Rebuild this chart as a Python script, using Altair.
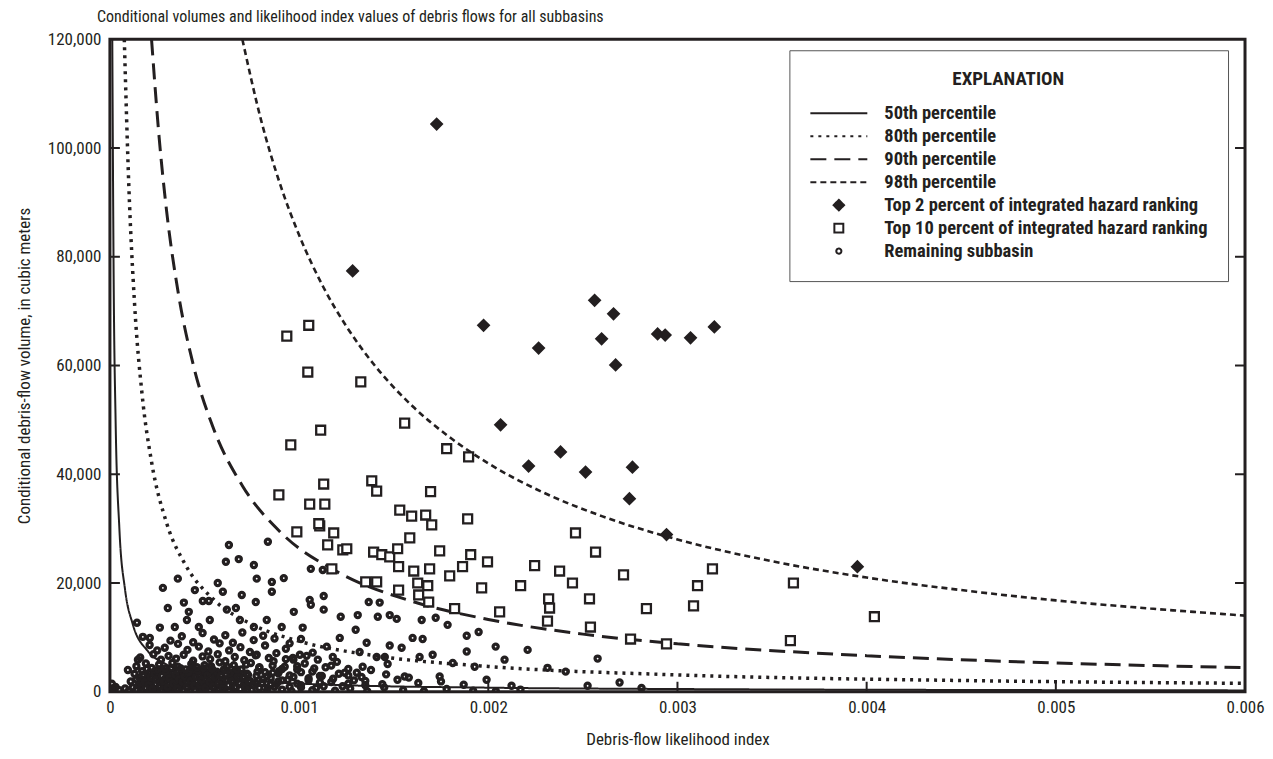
import altair as alt
import pandas as pd

FONT = "Liberation Sans Narrow, Roboto Condensed, DejaVu Sans Condensed, Arial Narrow, sans-serif"
INK = "#231f20"

SERIES = ["50th percentile", "80th percentile", "90th percentile", "98th percentile",
          "Top 2 percent of integrated hazard ranking",
          "Top 10 percent of integrated hazard ranking",
          "Remaining subbasin"]

# percentile curves (likelihood index, volume m3)
p50_L = [0.0000125, 0.00002, 0.00003, 0.00005, 0.00008, 0.00012, 0.0002, 0.0003, 0.0005, 0.0008, 0.0012, 0.002, 0.003, 0.0045, 0.006]
p50_V = [120000, 75000, 50000, 30000, 18800, 12500, 7500, 5000, 3000, 1900, 1250, 750, 500, 330, 250]

p80_L = [0.000076, 0.0001, 0.00013, 0.00017, 0.00022, 0.0003, 0.0004, 0.00055, 0.00075, 0.001, 0.0014, 0.002, 0.003, 0.0045, 0.006]
p80_V = [120000, 93000, 71500, 54700, 42300, 31000, 23300, 16900, 12400, 9300, 6640, 4650, 3100, 2070, 1550]

p90_L = [0.00022, 0.00026, 0.0003, 0.00036, 0.00044, 0.00055, 0.0007, 0.0009, 0.0012, 0.0016, 0.002, 0.0025, 0.003, 0.004, 0.005, 0.006]
p90_V = [120000, 102000, 88300, 73600, 60200, 48200, 37900, 29400, 22100, 16600, 13300, 10600, 8830, 6630, 5300, 4420]

p98_L = [0.0007, 0.0008, 0.0009, 0.001, 0.00113, 0.00125, 0.0014, 0.0016, 0.0018, 0.002, 0.0023, 0.0026, 0.003, 0.0035, 0.004, 0.0045, 0.005, 0.0055, 0.006]
p98_V = [120000, 105000, 93300, 84000, 74300, 67200, 60000, 52500, 46700, 42000, 36500, 32300, 28000, 24000, 21000, 18700, 16800, 15300, 14000]

# Top 2 percent of integrated hazard ranking
top2 = [(0.001727, 104400), (0.001283, 77400), (0.002562, 72000), (0.002662, 69500), (0.001975, 67400),
        (0.002599, 64900), (0.002895, 65800), (0.002935, 65600), (0.002266, 63200), (0.002673, 60100),
        (0.003069, 65100), (0.003195, 67100), (0.002065, 49100), (0.002382, 44100), (0.002213, 41500),
        (0.002514, 40400), (0.002762, 41300), (0.002746, 35500), (0.002942, 28900), (0.003951, 23000)]

# Top 10 percent of integrated hazard ranking
top10 = [(0.001051, 67400), (0.000935, 65400), (0.001046, 58800), (0.001326, 57000), (0.001114, 48100),
         (0.000956, 45400), (0.001558, 49400), (0.001780, 44700), (0.001896, 43200), (0.001130, 38200),
         (0.001384, 38800), (0.001410, 36900), (0.001695, 36800), (0.000893, 36200), (0.001056, 34500),
         (0.001136, 34500), (0.001532, 33400), (0.001595, 32300), (0.001669, 32500), (0.001701, 30700),
         (0.001891, 31800), (0.001109, 30500), (0.001104, 30900), (0.001183, 29200), (0.000988, 29400),
         (0.001585, 28300), (0.002461, 29200), (0.001151, 27000), (0.001231, 26100), (0.001252, 26300),
         (0.001394, 25700), (0.001437, 25200), (0.001479, 24800), (0.001521, 26300), (0.001743, 25900),
         (0.001907, 25200), (0.001996, 23900), (0.001526, 23000), (0.001606, 22200), (0.001690, 22600),
         (0.001796, 21300), (0.001864, 23000), (0.001965, 19100), (0.001627, 20000), (0.001680, 19500),
         (0.001632, 17800), (0.001685, 16500), (0.001526, 18700), (0.001352, 20200), (0.001410, 20200),
         (0.001173, 22600), (0.001822, 15300), (0.002060, 14700), (0.002171, 19500), (0.002245, 23200),
         (0.002319, 17100), (0.002324, 15400), (0.002313, 13000), (0.002377, 22200), (0.002445, 20000),
         (0.002535, 17100), (0.002540, 11900), (0.002567, 25700), (0.002715, 21500), (0.002836, 15300),
         (0.002752, 9700), (0.002942, 8800), (0.003085, 15800), (0.003106, 19500), (0.003185, 22600),
         (0.003613, 20000), (0.003597, 9400), (0.004041, 13800)]

# Remaining subbasins: scattered upper points
rem_upper = [(0.000629, 27000), (0.000835, 27600), (0.000613, 23900), (0.000681, 24400), (0.000761, 23300),
             (0.001062, 22600), (0.001125, 22400), (0.000359, 20800), (0.000280, 19100), (0.000570, 20000),
             (0.000449, 18700), (0.000597, 18400), (0.000776, 20800), (0.000856, 20200), (0.000919, 20900),
             (0.000856, 18400), (0.000697, 17800), (0.000771, 16500), (0.000306, 15400), (0.000391, 16400),
             (0.000491, 16700), (0.000523, 16700), (0.000666, 15400), (0.000417, 14700), (0.001056, 16900),
             (0.001062, 16000), (0.001130, 17600), (0.001368, 16500), (0.001426, 16400), (0.000972, 14700),
             (0.001130, 15100), (0.001220, 13800), (0.001310, 14100), (0.001416, 13800), (0.001479, 14100),
             (0.001516, 13400), (0.001648, 13200), (0.001722, 13600), (0.001785, 12300), (0.001886, 10300),
             (0.001949, 11000), (0.002039, 8300), (0.001600, 9900), (0.001653, 9700), (0.001542, 8100),
             (0.001479, 8500), (0.001410, 6400), (0.001453, 6400), (0.001357, 9000), (0.001299, 11400),
             (0.001215, 9900), (0.001146, 8300), (0.001072, 7200), (0.001019, 11800), (0.000908, 11900),
             (0.000829, 13200), (0.000761, 11900), (0.000687, 13200), (0.000618, 15100), (0.000528, 13200),
             (0.000470, 11900), (0.000407, 13200), (0.000343, 11900), (0.000264, 11800), (0.000174, 10100),
             (0.000211, 9900), (0.000143, 12700), (0.000095, 4000), (0.000148, 5900), (0.001637, 6400),
             (0.001706, 6800), (0.001812, 5300), (0.001886, 7400), (0.001991, 2200), (0.001743, 2800),
             (0.001558, 2800), (0.001468, 5100), (0.001336, 4600), (0.001305, 3500), (0.001241, 3500),
             (0.001178, 6400), (0.001099, 5900), (0.001004, 6800), (0.000924, 4600), (0.000967, 6200),
             (0.000861, 3500), (0.000776, 6800), (0.001928, 4600), (0.002086, 5900), (0.002208, 7700),
             (0.002313, 4400), (0.002409, 3700), (0.002578, 6100), (0.002694, 1700), (0.002810, 700),
             (0.002123, 1100), (0.002525, 1100),
             (0.00025, 7600), (0.00032, 9400), (0.00038, 10200), (0.00044, 9100), (0.00049, 10800),
             (0.00055, 9600), (0.00061, 10400), (0.00065, 9000), (0.00070, 10900), (0.00076, 9500),
             (0.00081, 10300), (0.00087, 9800), (0.00095, 8900), (0.00101, 9700)]

# Remaining subbasins: middle of the dense cluster
rem_mid = [(0.00021, 8600), (0.00029, 8100), (0.00036, 8800), (0.00041, 7700), (0.00047, 8300), (0.00052, 7400),
           (0.00058, 8900), (0.00063, 7600), (0.00069, 8200), (0.00074, 7300), (0.00082, 8500), (0.00088, 7100),
           (0.00093, 7900), (0.00016, 6300), (0.00023, 6900), (0.00027, 5900), (0.00031, 6600), (0.00035, 6100),
           (0.00039, 6800), (0.00044, 5700), (0.00049, 6500), (0.00053, 6000), (0.00057, 6900), (0.00061, 5600),
           (0.00066, 6400), (0.00071, 5800), (0.00077, 6700), (0.00084, 6200), (0.00097, 5900), (0.00104, 6600),
           (0.00014, 4700), (0.00019, 5200), (0.00022, 4400), (0.00026, 5000), (0.00029, 4300), (0.00033, 5300),
           (0.00036, 4600), (0.00040, 4100), (0.00043, 5100), (0.00046, 4500), (0.00050, 4900), (0.00054, 4200),
           (0.00058, 5400), (0.00062, 4600), (0.00067, 4100), (0.00072, 5000), (0.00079, 4400), (0.00086, 4800),
           (0.00091, 4200), (0.00099, 4700), (0.00108, 4300), (0.00117, 4800), (0.00126, 4200)]

# Remaining subbasins: core of the dense cluster
rem_dense = [(0.000155, 2600), (0.000165, 900), (0.000175, 3100), (0.000185, 1800), (0.000195, 4200),
             (0.000205, 1200), (0.000215, 2700), (0.000225, 500), (0.000235, 3300), (0.000245, 2200),
             (0.000255, 4100), (0.000265, 1000), (0.000275, 2900), (0.000285, 1900), (0.000295, 3600),
             (0.000305, 800), (0.000315, 2500), (0.000325, 4400), (0.000335, 1500), (0.000345, 3100),
             (0.000355, 600), (0.000365, 2300), (0.000375, 4300), (0.000385, 1800), (0.000395, 2800),
             (0.000405, 900), (0.000415, 3600), (0.000425, 2000), (0.000435, 4600), (0.000445, 1100),
             (0.000455, 2700), (0.000465, 3900), (0.000475, 1300), (0.000485, 2200), (0.000495, 4300),
             (0.000505, 700), (0.000515, 3000), (0.000525, 1800), (0.000535, 4700), (0.000545, 1000),
             (0.000555, 2600), (0.000565, 3700), (0.000575, 1500), (0.000585, 2900), (0.000595, 600),
             (0.000605, 4200), (0.000615, 2300), (0.000625, 1200), (0.000635, 3400), (0.000645, 2000),
             (0.000655, 4900), (0.000665, 900), (0.000675, 2800), (0.000685, 1700), (0.000695, 4100),
             (0.000705, 2500), (0.000715, 800), (0.000725, 3300), (0.000735, 1900), (0.000745, 5300),
             (0.000760, 1200), (0.000775, 2900), (0.000790, 4500), (0.000805, 1600), (0.000820, 3600),
             (0.000835, 700), (0.000850, 2500), (0.000865, 5600), (0.000880, 1400), (0.000895, 3800),
             (0.000910, 2100), (0.000930, 6000), (0.000950, 900), (0.000970, 2700), (0.000990, 4100),
             (0.001010, 1200), (0.001030, 5200), (0.001050, 2500), (0.001070, 3700), (0.001090, 700),
             (0.001110, 2900), (0.001140, 4500), (0.001170, 1800), (0.001200, 5500), (0.001230, 1000),
             (0.001260, 3000), (0.001290, 2100), (0.001320, 7300), (0.001350, 1200), (0.001380, 4000)]

# Remaining subbasins: bottom of the dense cluster
rem_low = [(0.00013, 3300), (0.00017, 3800), (0.00020, 2900), (0.00023, 3600), (0.00025, 3100), (0.00028, 3900),
           (0.00030, 2700), (0.00033, 3400), (0.00035, 3000), (0.00038, 3700), (0.00041, 2800), (0.00044, 3500),
           (0.00047, 3100), (0.00050, 3800), (0.00053, 2600), (0.00056, 3300), (0.00060, 3900), (0.00064, 2900),
           (0.00068, 3500), (0.00073, 3100), (0.00078, 3700), (0.00083, 2800), (0.00089, 3400), (0.00095, 3000),
           (0.00101, 3600), (0.00112, 2900), (0.00121, 3300), (0.00133, 2700), (0.00146, 3200), (0.00158, 2600),
           (0.00021, 3500), (0.00026, 3700), (0.00031, 3200), (0.00036, 3900), (0.00039, 3300), (0.00045, 3900),
           (0.00052, 3400), (0.00059, 3100), (0.00066, 3800), (0.00071, 2700),
           (0.00011, 1900), (0.00014, 2300), (0.00016, 1500), (0.00018, 2100), (0.00020, 1700), (0.00022, 2400),
           (0.00024, 1400), (0.00026, 2000), (0.00028, 1600), (0.00029, 2300), (0.00031, 1300), (0.00033, 1900),
           (0.00034, 2400), (0.00036, 1500), (0.00038, 2100), (0.00040, 1700), (0.00042, 2400), (0.00044, 1400),
           (0.00046, 2000), (0.00048, 1600), (0.00050, 2300), (0.00052, 1300), (0.00054, 1900), (0.00057, 2400),
           (0.00059, 1500), (0.00062, 2100), (0.00065, 1700), (0.00068, 2400), (0.00071, 1400), (0.00074, 2000),
           (0.00077, 1600), (0.00081, 2300), (0.00085, 1300), (0.00089, 1900), (0.00094, 2200), (0.00099, 1500),
           (0.00105, 2100), (0.00111, 1700), (0.00118, 2400), (0.00126, 1500), (0.00135, 2000), (0.00144, 1400),
           (0.00152, 2200), (0.00163, 1600), (0.00175, 1900), (0.00187, 1300),
           (0.00001, 1500), (0.00002, 600), (0.00003, 900), (0.00005, 300), (0.00008, 600), (0.00010, 200),
           (0.00012, 800), (0.00014, 400), (0.00015, 1100), (0.00017, 100), (0.00019, 700), (0.00021, 300),
           (0.00022, 1000), (0.00024, 500), (0.00026, 800), (0.00027, 200), (0.00029, 1100), (0.00031, 600),
           (0.00032, 100), (0.00034, 900), (0.00036, 400), (0.00037, 1000), (0.00039, 200), (0.00041, 700),
           (0.00043, 1100), (0.00045, 300), (0.00047, 800), (0.00049, 500), (0.00051, 1000), (0.00053, 200),
           (0.00055, 700), (0.00058, 400), (0.00060, 1100), (0.00063, 100), (0.00066, 800), (0.00069, 500),
           (0.00072, 1000), (0.00075, 300), (0.00079, 700), (0.00083, 200), (0.00087, 900), (0.00091, 400),
           (0.00096, 100), (0.00101, 800), (0.00107, 300), (0.00113, 1000), (0.00119, 200), (0.00127, 600),
           (0.00136, 100), (0.00145, 800), (0.00155, 300), (0.00166, 100), (0.00178, 500), (0.00192, 200),
           (0.00204, 100), (0.00217, 400)]

x_ticks = [0.001, 0.002, 0.003, 0.004, 0.005]
y_ticks = [20000, 40000, 60000, 80000, 100000]
x_labels = [0, 0.001, 0.002, 0.003, 0.004, 0.005, 0.006]
y_labels = [0, 20000, 40000, 60000, 80000, 100000, 120000]

# ---- tables ----
curve_rows = []
for s, Ls, Vs in [(SERIES[0], p50_L, p50_V), (SERIES[1], p80_L, p80_V),
                  (SERIES[2], p90_L, p90_V), (SERIES[3], p98_L, p98_V)]:
    for l, v in zip(Ls, Vs):
        curve_rows.append({"L": l, "V": v, "series": s})
curves = pd.DataFrame(curve_rows)

rem_rows = [{"L": l, "V": v, "series": SERIES[6]} for l, v in rem_low + rem_dense + rem_mid + rem_upper]
remaining = pd.DataFrame(rem_rows)

top_rows = [{"L": l, "V": v, "series": SERIES[5]} for l, v in top10] + \
           [{"L": l, "V": v, "series": SERIES[4]} for l, v in top2]
tops = pd.DataFrame(top_rows)

xt = pd.DataFrame({"L": x_ticks})
yt = pd.DataFrame({"V": y_ticks})

xs = alt.Scale(domain=[0, 0.006], nice=False, zero=False)
ys = alt.Scale(domain=[0, 120000], nice=False)

common_axis = dict(tickSize=0, domain=False, grid=False, labelFont=FONT, titleFont=FONT,
                   labelFontSize=17, titleFontSize=17, titleFontWeight="normal",
                   labelColor=INK, titleColor=INK, labelFlush=False)
xaxis = alt.Axis(title="Debris-flow likelihood index", values=x_labels,
                 labelExpr="datum.value == 0 ? '0' : format(datum.value, '.3f')",
                 labelPadding=8, titlePadding=16, **common_axis)
yaxis = alt.Axis(title="Conditional debris-flow volume, in cubic meters", values=y_labels,
                 format=",.0f", labelPadding=9, titlePadding=14, **common_axis)

X = alt.X("L:Q", scale=xs, axis=xaxis)
Y = alt.Y("V:Q", scale=ys, axis=yaxis)

leg = alt.Legend(title="EXPLANATION", orient="none", legendX=680, legendY=11)

dash_scale = alt.Scale(type="ordinal", domain=SERIES,
                       range=[[1, 0], [3, 5], [16, 8], [6, 4], [1, 0], [1, 0], [1, 0]])
shape_scale = alt.Scale(domain=SERIES, range=["stroke"] * 4 + ["diamond", "square", "circle"])
fill_scale = alt.Scale(domain=SERIES, range=["transparent"] * 4 + [INK, "white", "transparent"])
stroke_scale = alt.Scale(domain=SERIES, range=[INK] * 7)
size_scale = alt.Scale(type="ordinal", domain=SERIES, range=[3249] * 4 + [110, 80, 26])

widths = [2, 3.5, 3, 2.6]
layers = []
for s, w in zip(SERIES[:4], widths):
    layers.append(
        alt.Chart(curves).transform_filter(alt.datum.series == s)
        .mark_line(color=INK, strokeWidth=w, interpolate="monotone", clip=True)
        .encode(x=X, y=Y,
                strokeDash=alt.StrokeDash("series:N", scale=dash_scale, legend=leg),
                stroke=alt.Stroke("series:N", scale=stroke_scale, legend=leg))
    )

point_enc = dict(
    shape=alt.Shape("series:N", scale=shape_scale, legend=leg),
    fill=alt.Fill("series:N", scale=fill_scale, legend=leg),
    stroke=alt.Stroke("series:N", scale=stroke_scale, legend=leg),
    size=alt.Size("series:N", scale=size_scale, legend=leg),
)

# remaining subbasins (bold small rings)
layers.append(alt.Chart(remaining).mark_point(strokeWidth=3.3, opacity=1, clip=True)
              .encode(x=X, y=Y, **point_enc))
# top 10 / top 2 percent
layers.append(alt.Chart(tops).mark_point(strokeWidth=2.3, opacity=1, clip=True)
              .encode(x=X, y=Y, **point_enc))

# inward tick marks
layers.append(alt.Chart(yt).mark_rule(color=INK, strokeWidth=2)
              .encode(y=Y, x=alt.value(0), x2=alt.value(10)))
layers.append(alt.Chart(yt).mark_rule(color=INK, strokeWidth=2)
              .encode(y=Y, x=alt.value(1126), x2=alt.value(1136)))
layers.append(alt.Chart(xt).mark_rule(color=INK, strokeWidth=2)
              .encode(x=X, y=alt.value(643), y2=alt.value(653)))

chart = alt.layer(*layers).properties(
    width=1136, height=653,
    padding={"left": 102, "top": 31, "right": 20, "bottom": 60},
    autosize=alt.AutoSizeParams(type="none"),
    title=alt.TitleParams(
        text="Conditional volumes and likelihood index values of debris flows for all subbasins",
        anchor="start", frame="group", dx=-13, offset=5, fontSize=16, font=FONT,
        fontWeight="normal", color=INK),
).configure_view(stroke=INK, strokeWidth=3).configure_legend(
    labelFont=FONT, labelFontSize=18.5, labelFontWeight="bold", labelColor=INK,
    titleFont=FONT, titleFontSize=19, titleFontWeight="bold", titleColor=INK,
    titleAnchor="middle", titlePadding=15, symbolStrokeWidth=2, symbolStrokeColor=INK,
    padding=20, rowPadding=4, labelOffset=16, strokeColor="#555555", fillColor="white",
    labelLimit=600, clipHeight=18,
)

chart.save("out.html", embed_options={"renderer": "svg", "actions": False})
